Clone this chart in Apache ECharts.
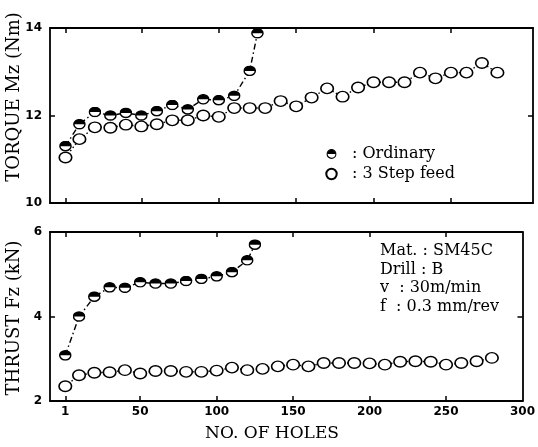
<!DOCTYPE html>
<html>
<head>
<meta charset="utf-8">
<script src="https://cdn.jsdelivr.net/npm/echarts@6/dist/echarts.min.js"></script>
<style>
  html, body { margin: 0; padding: 0; background: #fff; }
  #chart { width: 538px; height: 447px; }
</style>
</head>
<body>
<div id="chart"></div>
<script>
// data
var holesOrdinary = [1, 10, 20, 30, 40, 50, 60, 70, 80, 90, 100, 110, 120, 125];
var torqueOrdinary = [11.30, 11.80, 12.08, 12.00, 12.06, 12.00, 12.10, 12.24, 12.14, 12.37, 12.35, 12.45, 13.02, 13.88];
var thrustOrdinary = [3.08, 4.00, 4.47, 4.69, 4.68, 4.81, 4.78, 4.78, 4.84, 4.89, 4.95, 5.05, 5.33, 5.70];

var holesStep = [1, 10, 20, 30, 40, 50, 60, 70, 80, 90, 100, 110, 120, 130, 140, 150,
  160, 170, 180, 190, 200, 210, 220, 230, 240, 250, 260, 270, 280];
var torqueStep = [11.04, 11.46, 11.73, 11.72, 11.79, 11.75, 11.80, 11.89, 11.89, 12.00, 11.97, 12.17, 12.17, 12.17, 12.33, 12.21,
  12.41, 12.62, 12.43, 12.64, 12.76, 12.76, 12.76, 12.98, 12.85, 12.98, 12.98, 13.20, 12.98];
var thrustStep = [2.35, 2.61, 2.67, 2.68, 2.73, 2.65, 2.71, 2.71, 2.69, 2.69, 2.72, 2.79, 2.73, 2.76, 2.82, 2.86,
  2.82, 2.90, 2.90, 2.90, 2.89, 2.86, 2.93, 2.94, 2.93, 2.86, 2.90, 2.94, 3.02];

var xTicks = [1, 50, 100, 150, 200, 250];
var xLabels = [1, 50, 100, 150, 200, 250, 300];
var torqueTicks = [10, 12, 14];
var thrustTicks = [2, 4, 6];

function pairs(xs, ys) {
  return xs.map(function (x, i) { return [x, ys[i]]; });
}

// half filled marker (top half black)
var halfSvg = "<svg xmlns='http://www.w3.org/2000/svg' width='28' height='24' viewBox='0 0 28 24'>" +
  "<ellipse cx='14' cy='12' rx='12' ry='10' fill='#fff' stroke='#000' stroke-width='3.2'/>" +
  "<path d='M2 12 A12 10 0 0 1 26 12 Z' fill='#000'/></svg>";
var HALF = "image://data:image/svg+xml;charset=utf-8," + encodeURIComponent(halfSvg);

var tickFont = { color: "#000", fontFamily: "DejaVu Sans", fontWeight: "bold", fontSize: 12 };
var frame = { onZero: false, lineStyle: { color: "#000", width: 1.8 } };
var inTick = { inside: true, length: 5, lineStyle: { color: "#000", width: 1.5 } };

function xAx(grid, pos, max, labels) {
  return {
    type: "value", gridIndex: grid, position: pos, min: -9, max: max,
    axisLine: frame,
    axisTick: Object.assign({ customValues: xTicks }, inTick),
    axisLabel: labels ? Object.assign({ customValues: xLabels, margin: 5 }, tickFont) : { show: false },
    splitLine: { show: false },
  };
}
function yAx(grid, pos, ticks, labels) {
  return {
    type: "value", gridIndex: grid, position: pos,
    min: ticks[0], max: ticks[2], interval: 2,
    axisLine: frame,
    axisTick: inTick,
    axisLabel: labels ? Object.assign({ margin: 8 }, tickFont) : { show: false },
    splitLine: { show: false },
  };
}

var stepStyle = {
  symbol: "circle", symbolSize: [12.5, 10.5],
  itemStyle: { color: "#fff", borderColor: "#000", borderWidth: 1.5 },
  lineStyle: { color: "#000", width: 1.4, type: [1.5, 2.5] },
};
var ordStyle = {
  symbol: HALF, symbolSize: [13, 11],
  itemStyle: { color: "#000" },
  lineStyle: { color: "#000", width: 1.4, type: [6, 3, 1.5, 3] },
};

var myChart = echarts.init(document.getElementById("chart"));
var option = {
  animation: false,
  backgroundColor: "#fff",
  grid: [
    { left: 50, top: 28, width: 483, height: 175 },
    { left: 50, top: 232, width: 479, height: 169 },
  ],
  xAxis: [
    xAx(0, "bottom", 303, false),
    xAx(0, "top", 303, false),
    xAx(1, "bottom", 300, true),
    xAx(1, "top", 300, false),
  ],
  yAxis: [
    yAx(0, "left", torqueTicks, true),
    yAx(0, "right", torqueTicks, false),
    yAx(1, "left", thrustTicks, true),
    yAx(1, "right", thrustTicks, false),
  ],
  legend: {
    data: ["Ordinary", "3 Step feed"],
    orient: "vertical",
    left: 320,
    top: 141,
    itemWidth: 13,
    itemHeight: 13,
    itemGap: 4,
    selectedMode: false,
    formatter: function (name) { return ": " + name; },
    lineStyle: { opacity: 0, width: 0 },
    textStyle: { color: "#000", fontFamily: "DejaVu Serif", fontSize: 16, padding: [0, 0, 0, 9] },
  },
  graphic: [
    {
      type: "text", x: 14, y: 97, rotation: Math.PI / 2,
      style: { text: "TORQUE Mz (Nm)", font: "18px 'DejaVu Serif'", fill: "#000",
        textAlign: "center", textVerticalAlign: "middle", align: "center", verticalAlign: "middle" },
    },
    {
      type: "text", x: 14, y: 318, rotation: Math.PI / 2,
      style: { text: "THRUST Fz (kN)", font: "18px 'DejaVu Serif'", fill: "#000",
        textAlign: "center", textVerticalAlign: "middle", align: "center", verticalAlign: "middle" },
    },
    {
      type: "text", x: 272, y: 434,
      style: { text: "NO. OF HOLES", font: "17px 'DejaVu Serif'", fill: "#000",
        textAlign: "center", textVerticalAlign: "middle", align: "center", verticalAlign: "middle" },
    },
    {
      type: "text", x: 380, y: 242,
      style: { text: "Mat. : SM45C\nDrill : B\nv  : 30m/min\nf  : 0.3 mm/rev",
        font: "16px 'DejaVu Serif'", lineHeight: 18.5, fill: "#000",
        textAlign: "left", textVerticalAlign: "top", align: "left", verticalAlign: "top" },
    },
  ],
  series: [
    Object.assign({ name: "3 Step feed", type: "line", xAxisIndex: 0, yAxisIndex: 0,
      data: pairs(holesStep, torqueStep) }, stepStyle),
    Object.assign({ name: "Ordinary", type: "line", xAxisIndex: 0, yAxisIndex: 0,
      data: pairs(holesOrdinary, torqueOrdinary) }, ordStyle),
    Object.assign({ name: "3 Step feed", type: "line", xAxisIndex: 2, yAxisIndex: 2,
      data: pairs(holesStep, thrustStep) }, stepStyle),
    Object.assign({ name: "Ordinary", type: "line", xAxisIndex: 2, yAxisIndex: 2,
      data: pairs(holesOrdinary, thrustOrdinary) }, ordStyle),
  ],
};
myChart.setOption(option);
window.onresize = function () {
  myChart.resize();
};
</script>
</body>
</html>
